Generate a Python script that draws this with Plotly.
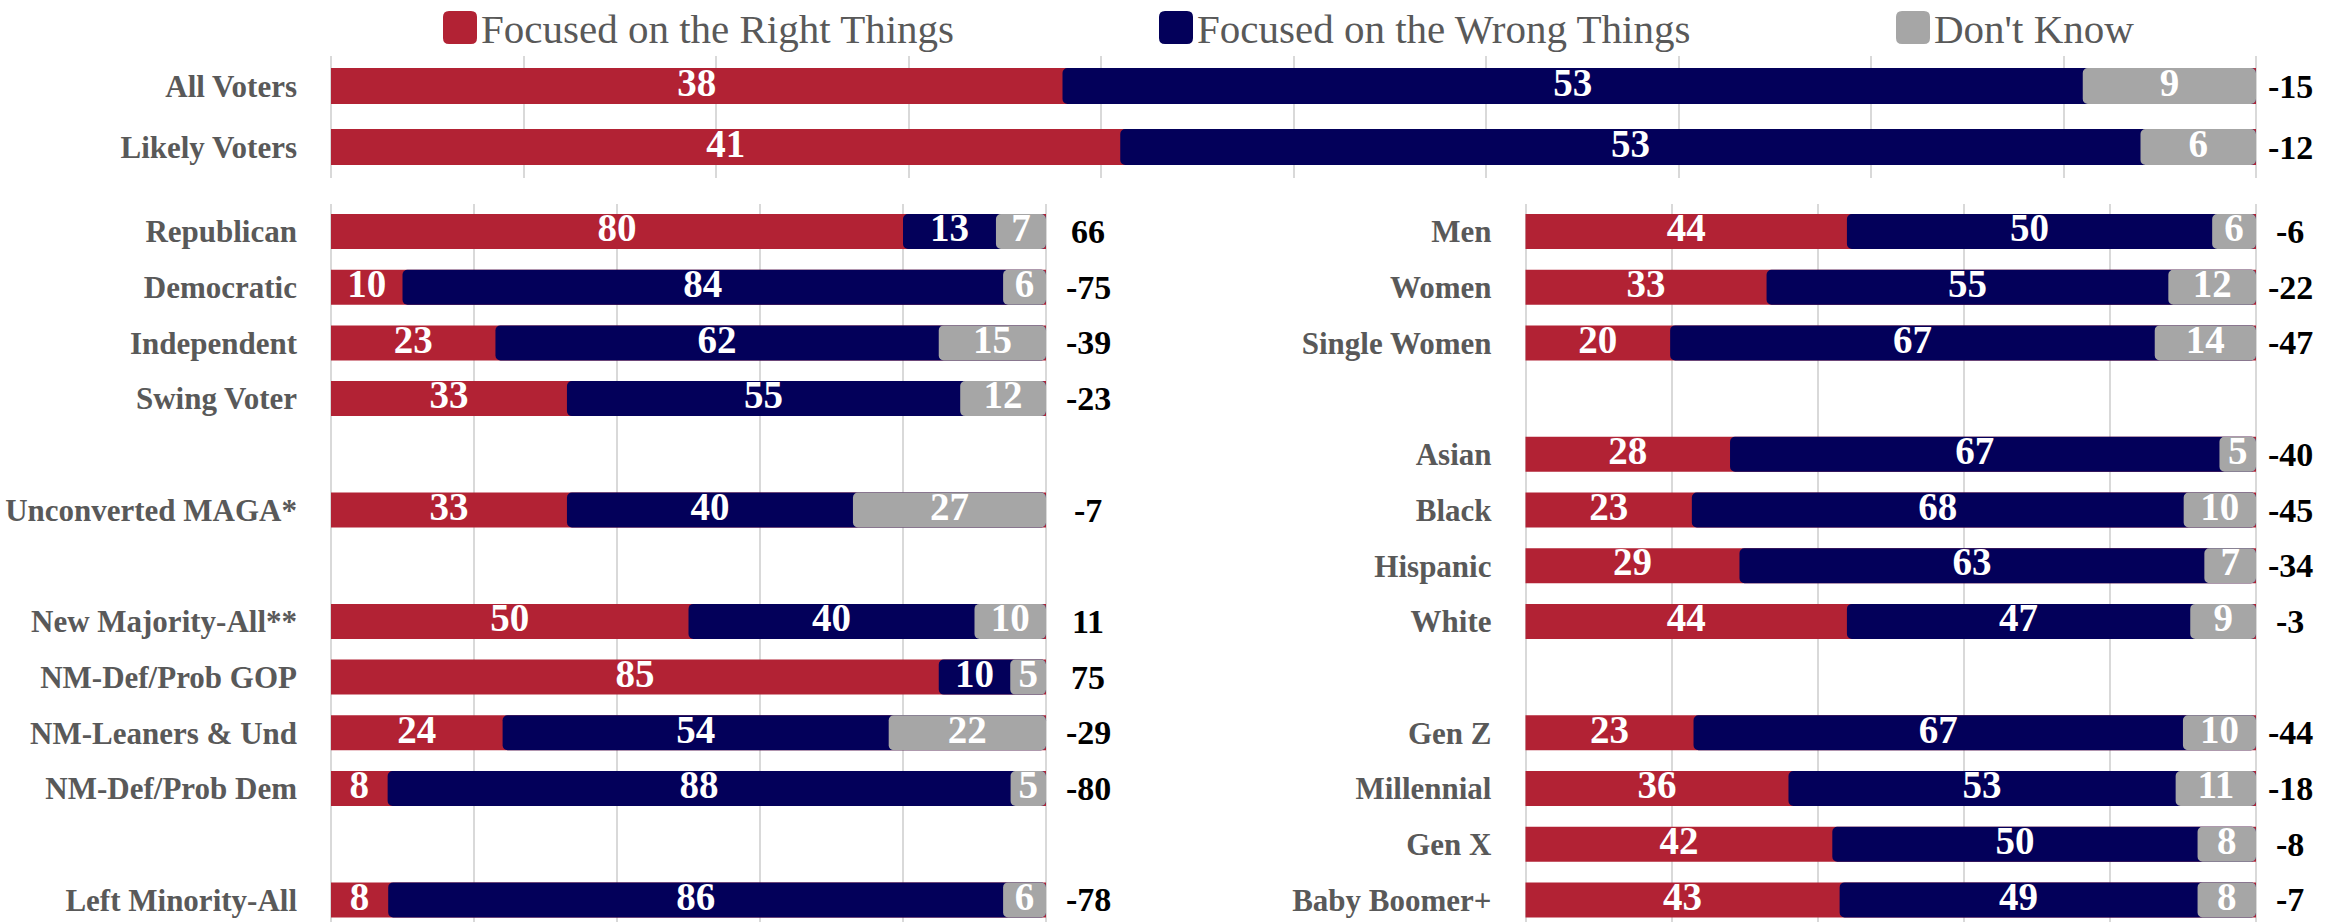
import plotly.graph_objects as go

# ---------------- data ----------------
series_names = ["Focused on the Right Things", "Focused on the Wrong Things", "Don't Know"]

top_labels = ["All Voters", "Likely Voters"]
top_right = [38, 41]
top_wrong = [53, 53]
top_dk = [9, 6]
top_net = [-15, -12]

left_labels = ["Republican", "Democratic", "Independent", "Swing Voter",
               "Unconverted MAGA*",
               "New Majority-All**", "NM-Def/Prob GOP", "NM-Leaners & Und", "NM-Def/Prob Dem",
               "Left Minority-All"]
left_right = [80, 10, 23, 33, 33, 50, 85, 24, 8, 8]
left_wrong = [13, 84, 62, 55, 40, 40, 10, 54, 88, 86]
left_dk = [7, 6, 15, 12, 27, 10, 5, 22, 5, 6]
left_net = [66, -75, -39, -23, -7, 11, 75, -29, -80, -78]

right_labels = ["Men", "Women", "Single Women",
                "Asian", "Black", "Hispanic", "White",
                "Gen Z", "Millennial", "Gen X", "Baby Boomer+"]
right_right = [44, 33, 20, 28, 23, 29, 44, 23, 36, 42, 43]
right_wrong = [50, 55, 67, 67, 68, 63, 47, 67, 53, 50, 49]
right_dk = [6, 12, 14, 5, 10, 7, 9, 10, 11, 8, 8]
right_net = [-6, -22, -47, -40, -45, -34, -3, -44, -18, -8, -7]

# ---------------- style ----------------
W, H = 2334, 922
RED, NAVY, GRAY = "#B22234", "#03005A", "#A6A6A6"
TXT_GRAY = "#595959"
FONT = "Liberation Serif"
GRID = "#D9D9D9"


def positions(n, gap_after):
    pos, p = [], 0
    for i in range(n):
        pos.append(p)
        p += 2 if i in gap_after else 1
    return pos


panels = [
    dict(ax="", labels=top_labels, r=top_right, w=top_wrong, d=top_dk, net=top_net,
         gaps=[], x0=331, x100=2256, ytop=55.5, ybot=177.5, c0=86, sp=61,
         bar_px=36, dtick=10, netshift=34),
    dict(ax="2", labels=left_labels, r=left_right, w=left_wrong, d=left_dk, net=left_net,
         gaps=[3, 4, 8], x0=331, x100=1046, ytop=203.6, ybot=922, c0=231.5, sp=55.7,
         bar_px=35, dtick=20, netshift=42),
    dict(ax="3", labels=right_labels, r=right_right, w=right_wrong, d=right_dk, net=right_net,
         gaps=[2, 6], x0=1525.5, x100=2256, ytop=203.6, ybot=922, c0=231.5, sp=55.7,
         bar_px=35, dtick=20, netshift=34),
]

fig = go.Figure()
layout = dict(
    width=W, height=H, margin=dict(l=0, r=0, t=0, b=0, autoexpand=False),
    paper_bgcolor="white", plot_bgcolor="white",
    barmode="overlay", showlegend=False, font=dict(family=FONT),
)
annotations = []

for pnl in panels:
    ax = pnl["ax"]
    xa, ya = "x" + ax, "y" + ax
    pos = positions(len(pnl["labels"]), pnl["gaps"])
    tot = [a + b + c for a, b, c in zip(pnl["r"], pnl["w"], pnl["d"])]
    nr = [100 * a / t for a, t in zip(pnl["r"], tot)]
    nw = [100 * a / t for a, t in zip(pnl["w"], tot)]
    nd = [100 * a / t for a, t in zip(pnl["d"], tot)]
    bw = pnl["bar_px"] / pnl["sp"]

    # layered bars: red underneath, navy and gray on top with rounded left ends
    fig.add_trace(go.Bar(y=pos, x=[a + b + c for a, b, c in zip(nr, nw, nd)], base=0,
                         orientation="h", width=bw, marker=dict(color=RED, line_width=0),
                         name=series_names[0], xaxis=xa, yaxis=ya, hoverinfo="skip"))
    fig.add_trace(go.Bar(y=pos, x=[-(b + c) for b, c in zip(nw, nd)],
                         base=[a + b + c for a, b, c in zip(nr, nw, nd)],
                         orientation="h", width=bw, marker=dict(color=NAVY, line_width=0, cornerradius=5),
                         name=series_names[1], xaxis=xa, yaxis=ya, hoverinfo="skip"))
    fig.add_trace(go.Bar(y=pos, x=[-c for c in nd],
                         base=[a + b + c for a, b, c in zip(nr, nw, nd)],
                         orientation="h", width=bw, marker=dict(color=GRAY, line_width=0, cornerradius=5),
                         name=series_names[2], xaxis=xa, yaxis=ya, hoverinfo="skip"))

    # segment value labels
    cx, cy, ct = [], [], []
    for i, p in enumerate(pos):
        starts = [0, nr[i], nr[i] + nw[i]]
        lens = [nr[i], nw[i], nd[i]]
        vals = [pnl["r"][i], pnl["w"][i], pnl["d"][i]]
        for s, l, v in zip(starts, lens, vals):
            cx.append(s + l / 2)
            cy.append(p)
            ct.append(str(v))
    fig.add_trace(go.Scatter(x=cx, y=cy, text=ct, mode="text", textposition="middle center",
                             textfont=dict(family=FONT, size=39, color="white", weight="bold"),
                             cliponaxis=False, xaxis=xa, yaxis=ya, hoverinfo="skip"))

    ppu = (pnl["x100"] - pnl["x0"]) / 100.0
    pad = 4.0 / ppu
    layout["xaxis" + ax] = dict(
        domain=[(pnl["x0"] - 4) / W, (pnl["x100"] + 4) / W], range=[-pad, 100 + pad],
        anchor=ya, showgrid=True, gridcolor=GRID, gridwidth=2, dtick=pnl["dtick"], tick0=0,
        showticklabels=False, zeroline=False, showline=False, ticks="", automargin=False,
    )
    layout["yaxis" + ax] = dict(
        domain=[1 - pnl["ybot"] / H, 1 - pnl["ytop"] / H],
        range=[(pnl["ybot"] - pnl["c0"]) / pnl["sp"], (pnl["ytop"] - pnl["c0"]) / pnl["sp"]],
        anchor=xa, tickmode="array", tickvals=pos, ticktext=pnl["labels"],
        tickfont=dict(family=FONT, size=31, color=TXT_GRAY, weight="bold"),
        ticks="", ticklabelstandoff=29, showgrid=False, zeroline=False, showline=False,
        automargin=False,
    )

    for p, n in zip(pos, pnl["net"]):
        annotations.append(dict(
            x=100, y=p, xref=xa, yref=ya, xshift=pnl["netshift"], text=str(n),
            showarrow=False, xanchor="center", yanchor="middle",
            font=dict(family=FONT, size=34, color="black", weight="bold"),
        ))

# ---------------- legend (manual, rounded squares) ----------------
legend_items = [(443, RED), (1159, NAVY), (1896, GRAY)]
shapes = []
for (lx, col), name in zip(legend_items, series_names):
    x0, x1, y0, y1, r = lx, lx + 34, 11, 44, 6
    path = (f"M {(x0 + r) / W},{1 - y0 / H} L {(x1 - r) / W},{1 - y0 / H} "
            f"Q {x1 / W},{1 - y0 / H} {x1 / W},{1 - (y0 + r) / H} "
            f"L {x1 / W},{1 - (y1 - r) / H} Q {x1 / W},{1 - y1 / H} {(x1 - r) / W},{1 - y1 / H} "
            f"L {(x0 + r) / W},{1 - y1 / H} Q {x0 / W},{1 - y1 / H} {x0 / W},{1 - (y1 - r) / H} "
            f"L {x0 / W},{1 - (y0 + r) / H} Q {x0 / W},{1 - y0 / H} {(x0 + r) / W},{1 - y0 / H} Z")
    shapes.append(dict(type="path", xref="paper", yref="paper", path=path,
                       fillcolor=col, line=dict(width=0)))
    annotations.append(dict(
        x=(x1 + 2) / W, y=1 - 29 / H, xref="paper", yref="paper", text=name,
        showarrow=False, xanchor="left", yanchor="middle",
        font=dict(family=FONT, size=41, color=TXT_GRAY),
    ))

layout["annotations"] = annotations
layout["shapes"] = shapes
fig.update_layout(**layout)

fig.write_html("out.html", config={"displayModeBar": False},
               post_script="document.body.style.margin='0';document.body.style.overflow='hidden';")
